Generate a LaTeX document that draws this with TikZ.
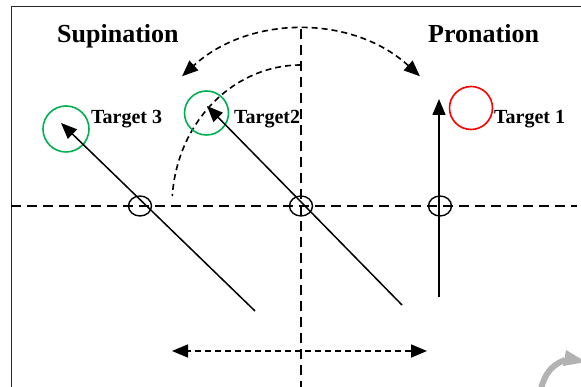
\documentclass[tikz,border=0pt]{standalone}
\usepackage{fontspec}
\setmainfont{Liberation Serif}
\usetikzlibrary{arrows.meta,shapes.geometric}
\definecolor{tgreen}{RGB}{0,176,80}
\tikzset{
  longdash/.style={line width=1.5pt, dash pattern=on 10pt off 6pt},
  shortdash/.style={line width=1.6pt, dash pattern=on 6pt off 4pt},
  pivot/.style={draw, ellipse, line width=1.4pt, minimum width=23pt, minimum height=20pt, inner sep=0pt},
  target/.style={draw, circle, line width=1.6pt, inner sep=0pt},
  title/.style={font=\fontsize{26}{30}\selectfont\bfseries, inner sep=0pt, anchor=base west},
  tlabel/.style={font=\fontsize{20}{22}\selectfont\bfseries, inner sep=0pt, anchor=base west},
  limb/.style={line width=1.5pt},
  tip/.style={-{Triangle[length=16pt,width=13pt]}},
  bitip/.style={{Triangle[length=16pt,width=13pt]}-{Triangle[length=16pt,width=13pt]}}
}
\begin{document}
\begin{tikzpicture}[x=1pt,y=1pt]
\useasboundingbox (0,0) rectangle (581,387);
% frame
\coordinate (fa) at (11,0);
\coordinate (fb) at (11,380);
\coordinate (fc) at (581,380);
\draw[line width=1pt, black!85] (fa) -- (fb) -- (fc);
% axes
\coordinate (hL) at (11,181);
\coordinate (hR) at (577,181);
\coordinate (vT) at (301,358);
\coordinate (vB) at (301,0);
\draw[longdash] (hL) -- (hR);
\draw[longdash] (vT) -- (vB);
% arcs
\coordinate (oA) at (301,357);
\draw[shortdash, bitip] ([shift={(47.5:176)}]301,181) arc[start angle=47.5, end angle=132.5, radius=176];
\coordinate (iA) at (301,322);
\draw[shortdash] (iA) arc[start angle=90, end angle=176, x radius=129, y radius=141];
% pivots
\node[pivot] (p3) at (140,181) {};
\node[pivot] (p2) at (301,181) {};
\node[pivot] (p1) at (440,181) {};
% targets
\node[target, draw=tgreen, minimum size=46pt] (t3) at (66,258) {};
\node[target, draw=tgreen, minimum size=44pt] (t2) at (206.5,274) {};
\node[target, draw=red, minimum size=43pt] (t1) at (471,279) {};
% limbs
\coordinate (b3) at (255,76);
\coordinate (e3) at (61,264);
\coordinate (b2) at (402,82);
\coordinate (e2) at (207,281);
\coordinate (b1) at (439,90);
\coordinate (e1) at (439,288);
\draw[limb, tip] (b3) -- (e3);
\draw[limb, tip] (b2) -- (e2);
\draw[limb, tip] (b1) -- (e1);
% bottom double arrow
\coordinate (dl) at (172,36);
\coordinate (dr) at (427,36);
\draw[shortdash, bitip] (dr) -- (dl);
% labels
\node[title] (sup) at (57,344) {Supination};
\node[title] (pro) at (428,344) {Pronation};
\node[tlabel] (l3) at (91,263) {Target 3};
\node[tlabel] (l2) at (234,263) {Target2};
\node[tlabel] (l1) at (494,263) {Target 1};
% gray fragment
\draw[line width=6pt, black!30] (541,-2) .. controls (545,14) and (552,22) .. (565,27);
\fill[black!30] (566,37) -- (586,25) -- (563,21) -- cycle;
\end{tikzpicture}
\end{document}
